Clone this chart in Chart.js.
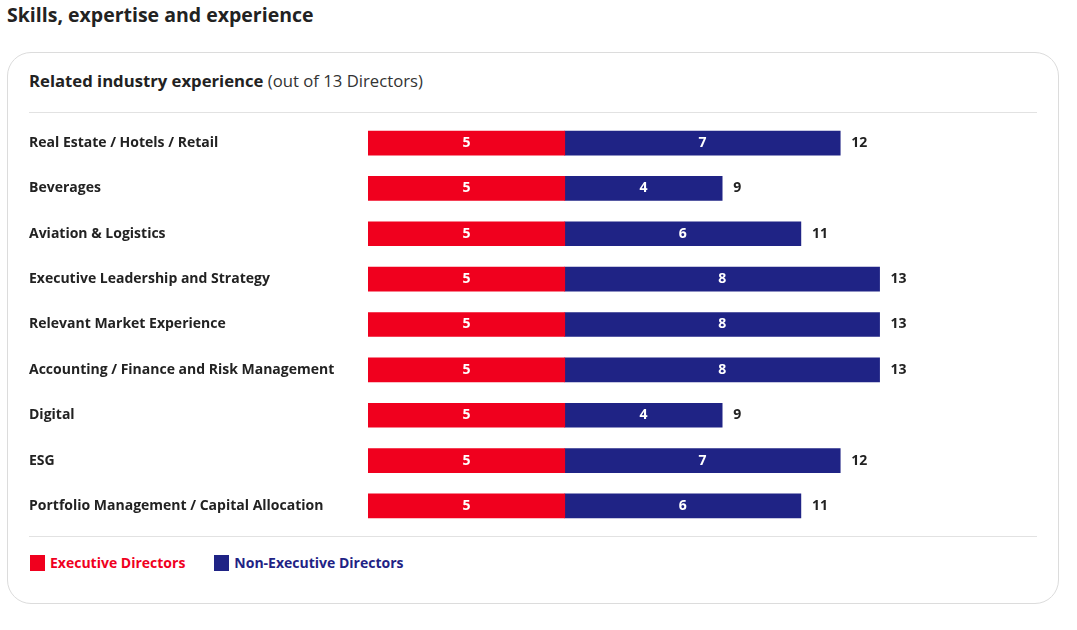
<!DOCTYPE html>
<html>
<head>
<meta charset="utf-8">
<script src="https://cdn.jsdelivr.net/npm/chart.js@4"></script>
<style>
  html, body { margin: 0; padding: 0; background: #fff; }
  body { width: 1077px; height: 630px; position: relative; overflow: hidden; font-family: "Open Sans", "Noto Sans", sans-serif; color: #222; }
  #heading { position: absolute; left: 7px; top: 1px; font-size: 19.5px; font-weight: 700; color: #222; }
  #card { position: absolute; left: 7px; top: 52px; width: 1050px; height: 550px; border: 1px solid #dcdcdc; border-radius: 24px; }
  #title { position: absolute; left: 29px; top: 69px; font-size: 16.7px; color: #222; white-space: nowrap; }
  #title b { font-weight: 700; }
  #title span { font-weight: 400; color: #333; }
  .sep { position: absolute; left: 29px; width: 1008px; height: 1px; background: #e2e2e2; }
  #wrap { position: absolute; left: 29px; top: 112px; width: 1008px; height: 425px; }
  #legend { position: absolute; left: 30px; top: 553px; display: flex; align-items: center; font-size: 14px; font-weight: 700; }
  .li { display: flex; align-items: center; margin-right: 29px; }
  .sw { width: 15px; height: 16px; margin-right: 5px; }
</style>
</head>
<body>
<div id="heading">Skills, expertise and experience</div>
<div id="card"></div>
<div id="title"><b>Related industry experience</b> <span>(out of 13 Directors)</span></div>
<div class="sep" style="top:112px"></div>
<div id="wrap"><canvas id="c"></canvas></div>
<div class="sep" style="top:536px"></div>
<div id="legend"></div>
<script>
const categories = [
  "Real Estate / Hotels / Retail",
  "Beverages",
  "Aviation & Logistics",
  "Executive Leadership and Strategy",
  "Relevant Market Experience",
  "Accounting / Finance and Risk Management",
  "Digital",
  "ESG",
  "Portfolio Management / Capital Allocation"
];
const executiveDirectors = [5, 5, 5, 5, 5, 5, 5, 5, 5];
const nonExecutiveDirectors = [7, 4, 6, 8, 8, 8, 4, 7, 6];
const seriesNames = ["Executive Directors", "Non-Executive Directors"];
const seriesColors = ["#F0001E", "#1F2385"];

const FONT = "'Open Sans', 'Noto Sans', sans-serif";

const labelPlugin = {
  id: 'barLabels',
  afterDatasetsDraw(chart) {
    const ctx = chart.ctx;
    ctx.save();
    ctx.font = "700 14px " + FONT;
    ctx.textBaseline = 'middle';
    chart.data.datasets.forEach((ds, di) => {
      const meta = chart.getDatasetMeta(di);
      meta.data.forEach((bar, i) => {
        ctx.fillStyle = '#ffffff';
        ctx.textAlign = 'center';
        ctx.fillText(String(ds.data[i]), (bar.x + bar.base) / 2, bar.y);
        if (di === chart.data.datasets.length - 1) {
          const total = chart.data.datasets.reduce((s, d) => s + d.data[i], 0);
          ctx.fillStyle = '#222222';
          ctx.textAlign = 'left';
          ctx.fillText(String(total), bar.x + 11, bar.y);
        }
      });
    });
    ctx.restore();
  }
};

new Chart(document.getElementById('c'), {
  type: 'bar',
  data: {
    labels: categories,
    datasets: [
      { label: seriesNames[0], data: executiveDirectors, backgroundColor: seriesColors[0], barThickness: 24 },
      { label: seriesNames[1], data: nonExecutiveDirectors, backgroundColor: seriesColors[1], barThickness: 24 }
    ]
  },
  options: {
    indexAxis: 'y',
    responsive: true,
    maintainAspectRatio: false,
    animation: false,
    layout: { padding: 0 },
    plugins: { legend: { display: false }, tooltip: { enabled: false } },
    scales: {
      x: { stacked: true, display: false, min: 0, max: 17 },
      y: {
        stacked: true,
        grid: { display: false },
        border: { display: false },
        ticks: { crossAlign: 'far', padding: 0, color: '#222', font: { family: FONT, size: 14, weight: '700' } },
        afterFit(s) { s.width = 339; }
      }
    }
  },
  plugins: [labelPlugin]
});

const legend = document.getElementById('legend');
seriesNames.forEach((n, i) => {
  const li = document.createElement('div');
  li.className = 'li';
  li.innerHTML = '<div class="sw" style="background:' + seriesColors[i] + '"></div><span style="color:' + seriesColors[i] + '">' + n + '</span>';
  legend.appendChild(li);
});
</script>
</body>
</html>
